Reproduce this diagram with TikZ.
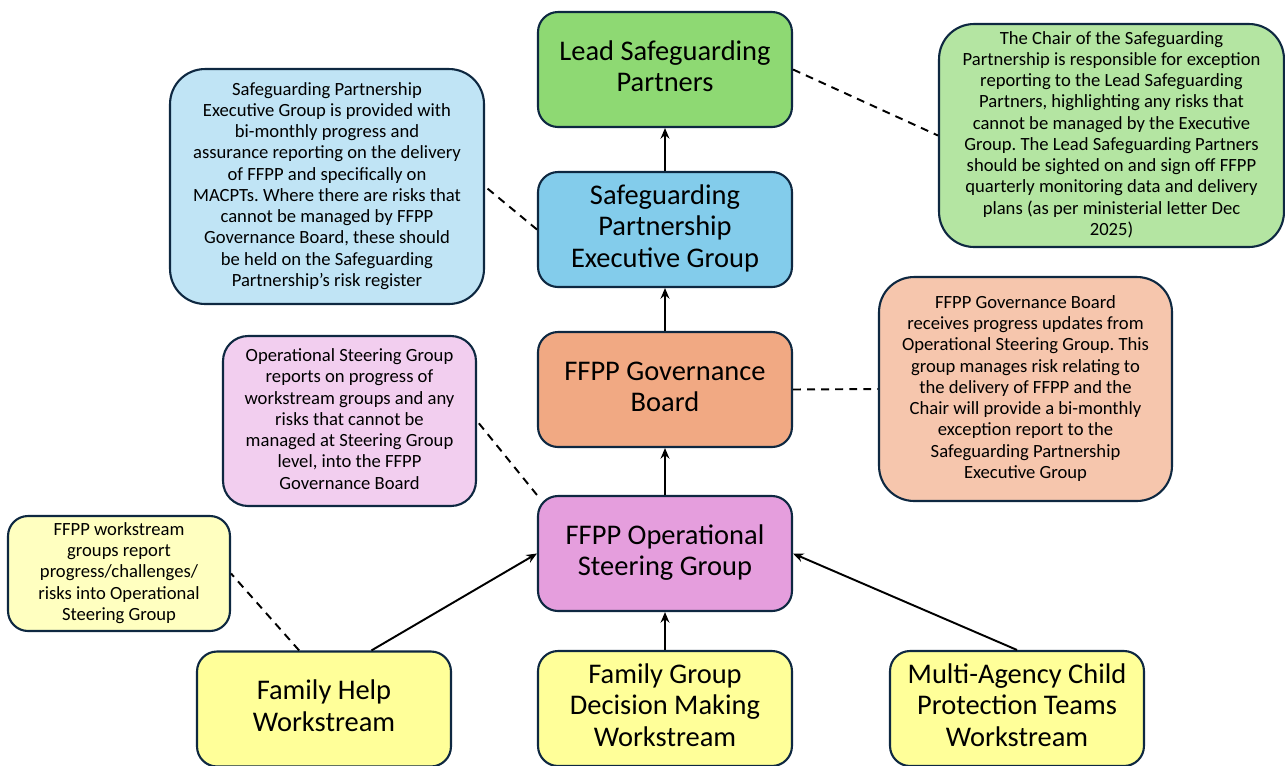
\documentclass[tikz,border=0pt]{standalone}
\usepackage{fontspec}
\setmainfont{Carlito}
\usepackage{xcolor}
\usetikzlibrary{arrows.meta}
\frenchspacing

\definecolor{edgeblue}{HTML}{0E2841}
\definecolor{lspgreen}{HTML}{8ED973}
\definecolor{spegblue}{HTML}{83CCEB}
\definecolor{govorange}{HTML}{F1A983}
\definecolor{osgpink}{HTML}{E59EDD}
\definecolor{wsyellow}{HTML}{FFFF99}
\definecolor{notegreen}{HTML}{B4E5A2}
\definecolor{noteblue}{HTML}{C0E4F5}
\definecolor{noteorange}{HTML}{F6C6AD}
\definecolor{notepink}{HTML}{F2CEEF}
\definecolor{noteyellow}{HTML}{FFFFC0}

\tikzset{
	stage/.style={draw=edgeblue, line width=1.2pt, rounded corners=0.4cm, minimum width=5.08cm, minimum height=2.3cm, inner sep=0pt, font=\fontsize{16.2}{18}\selectfont},
	note/.style={draw=edgeblue, line width=1.2pt, inner sep=0pt, font=\fontsize{10.6}{12.1}\selectfont},
	link/.style={-{Stealth[length=6pt,width=5pt]}, line width=1.1pt},
	aside/.style={dash pattern=on 4.5pt off 3.5pt, line width=1.1pt},
}

\begin{document}
\begin{tikzpicture}[x=0.02cm, y=-0.02cm]
	\useasboundingbox (0,0) rectangle (1285,765);

	% governance chain
	\node (lsp) [stage, fill=lspgreen] at (665, 69.5) {\begin{tabular}{c}Lead Safeguarding\\Partners\end{tabular}};
	\node (speg) [stage, fill=spegblue] at (665, 229.5) {\begin{tabular}{c}Safeguarding\\Partnership\\Executive Group\end{tabular}};
	\node (gov) [stage, fill=govorange] at (665, 389.5) {\begin{tabular}{c}FFPP Governance\\Board\end{tabular}};
	\node (osg) [stage, fill=osgpink] at (665, 553.5) {\begin{tabular}{c}FFPP Operational\\Steering Group\end{tabular}};

	% workstreams
	\node (fhw) [stage, fill=wsyellow] at (324, 709) {\begin{tabular}{c}Family Help\\Workstream\end{tabular}};
	\node (fgdm) [stage, fill=wsyellow] at (665, 708.5) {\begin{tabular}{c}Family Group\\Decision Making\\Workstream\end{tabular}};
	\node (macpt) [stage, fill=wsyellow] at (1017, 708.5) {\begin{tabular}{c}Multi-Agency Child\\Protection Teams\\Workstream\end{tabular}};

	% side notes
	\node (greennote) [note, fill=notegreen, rounded corners=0.7cm, minimum width=6.9cm, minimum height=4.46cm] at (1111.5, 135.5) {\begin{tabular}{c}The Chair of the Safeguarding\\Partnership is responsible for exception\\reporting to the Lead Safeguarding\\Partners, highlighting any risks that\\cannot be managed by the Executive\\Group. The Lead Safeguarding Partners\\should be sighted on and sign off FFPP\\quarterly monitoring data and delivery\\plans (as per ministerial letter Dec\\2025)\end{tabular}};
	\node (bluenote) [note, fill=noteblue, rounded corners=0.7cm, minimum width=6.28cm, minimum height=4.7cm] at (327, 186.5) {\begin{tabular}{c}Safeguarding Partnership\\Executive Group is provided with\\bi-monthly progress and\\assurance reporting on the delivery\\of FFPP and specifically on\\MACPTs. Where there are risks that\\cannot be managed by FFPP\\Governance Board, these should\\be held on the Safeguarding\\Partnership's risk register\end{tabular}};
	\node (orangenote) [note, fill=noteorange, rounded corners=0.7cm, minimum width=5.86cm, minimum height=4.48cm] at (1025.5, 389) {\begin{tabular}{c}FFPP Governance Board\\receives progress updates from\\Operational Steering Group. This\\group manages risk relating to\\the delivery of FFPP and the\\Chair will provide a bi-monthly\\exception report to the\\Safeguarding Partnership\\Executive Group\end{tabular}};
	\node (pinknote) [note, fill=notepink, rounded corners=0.5cm, minimum width=5.06cm, minimum height=3.4cm] at (349.5, 421) {\begin{tabular}{c}Operational Steering Group\\reports on progress of\\workstream groups and any\\risks that cannot be\\managed at Steering Group\\level, into the FFPP\\Governance Board\end{tabular}};
	\node (yellownote) [note, fill=noteyellow, rounded corners=0.4cm, minimum width=4.44cm, minimum height=2.3cm] at (119, 573.5) {\begin{tabular}{c}FFPP workstream\\groups report\\progress/challenges/\\risks into Operational\\Steering Group\end{tabular}};

	% reporting lines
	\draw [link] (speg) -- (lsp);
	\draw [link] (gov) -- (speg);
	\draw [link] (osg) -- (gov);
	\draw [link] (fgdm) -- (osg);
	\draw [link] (fhw.51) -- (osg.west);
	\draw [link] (macpt.north) -- (osg.east);

	% dashed links to notes
	\draw [aside] (lsp.east) -- (greennote.west);
	\draw [aside] (speg.west) -- (bluenote.east);
	\draw [aside] (gov.east) -- (orangenote.west);
	\draw [aside] (osg.north west) -- (pinknote.east);
	\draw [aside] (fhw.113) -- (yellownote.east);
\end{tikzpicture}
\end{document}
